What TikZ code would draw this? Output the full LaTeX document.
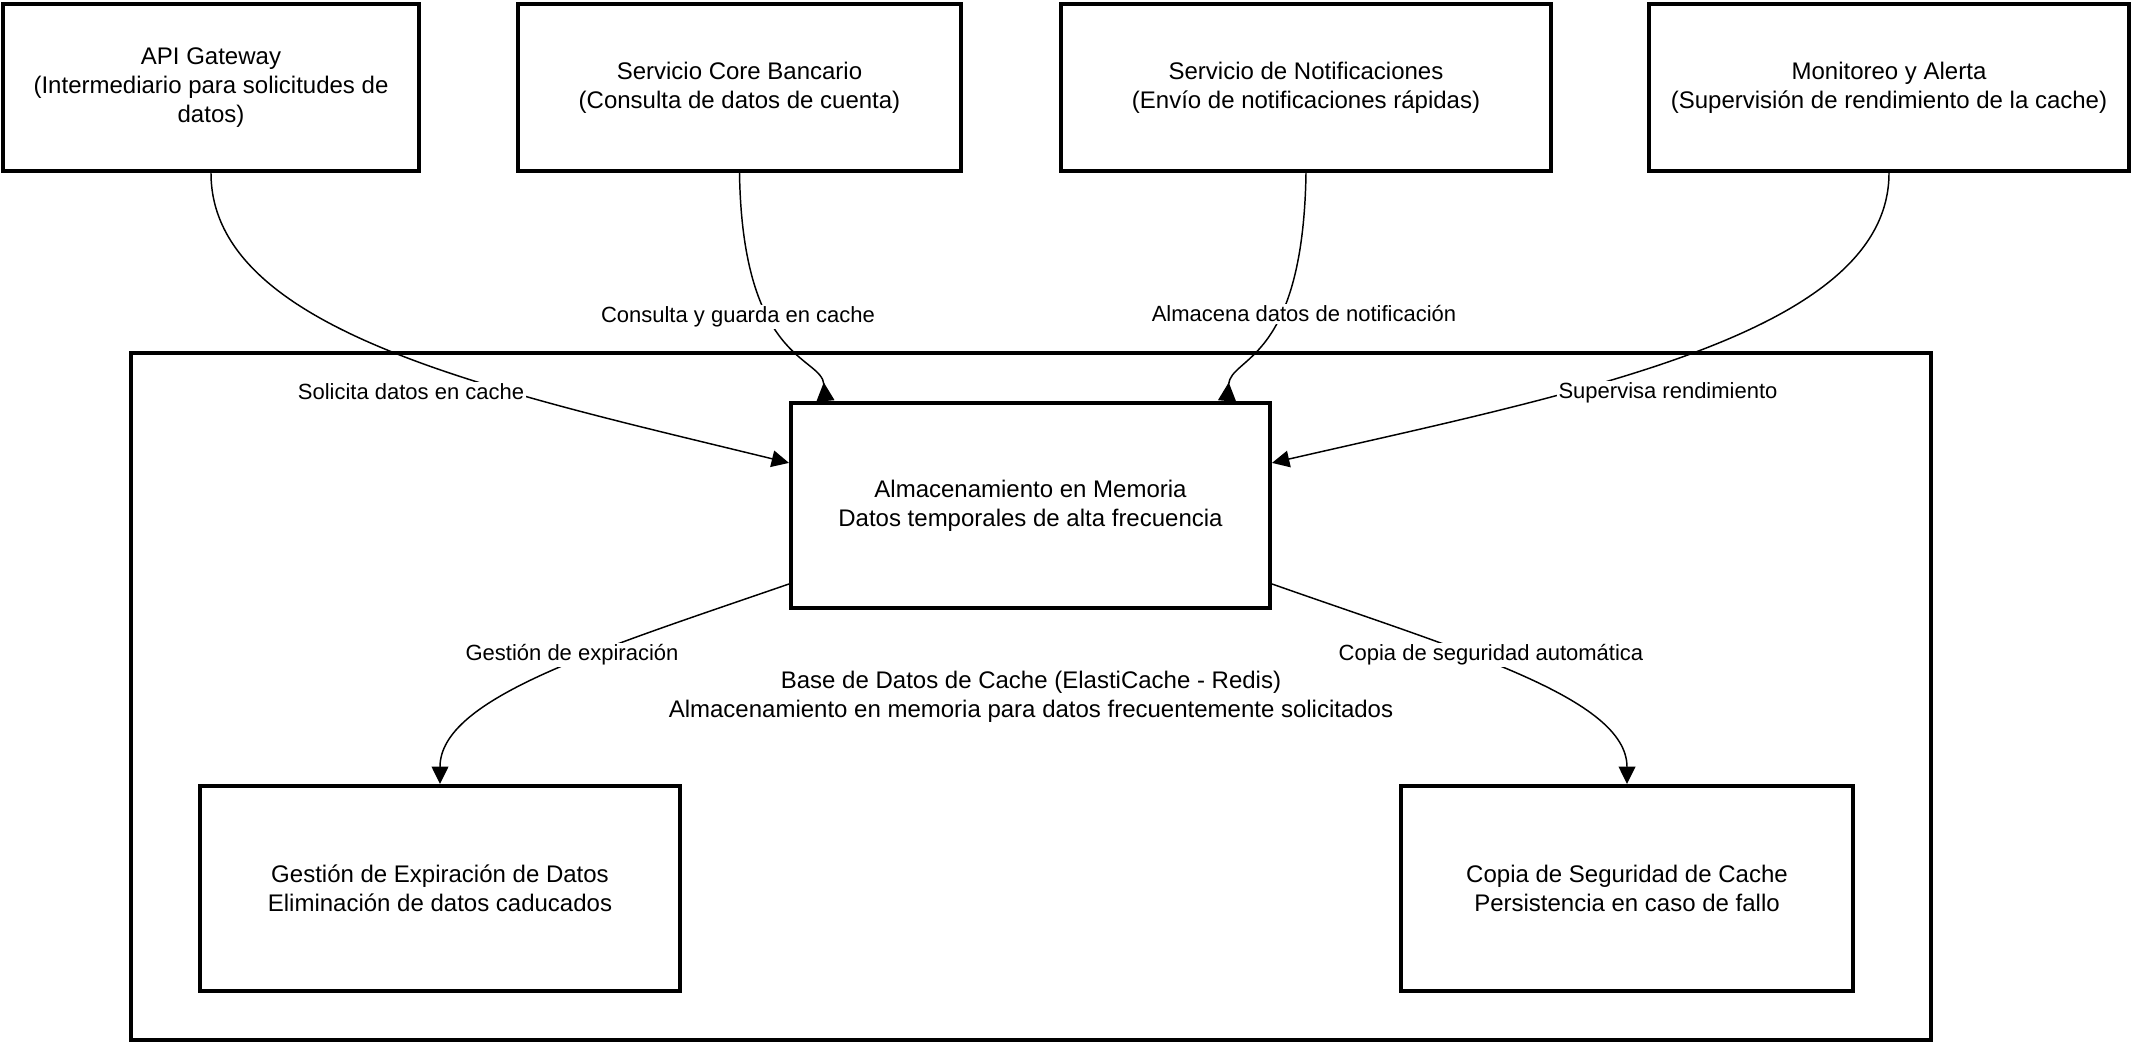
\documentclass[tikz,border=0pt]{standalone}
\usepackage{fontspec}
\setmainfont{Liberation Sans}
\usetikzlibrary{arrows.meta}

\tikzset{
box/.style={draw, line width=3pt, align=center, inner sep=0pt, font=\fontsize{18}{22}\selectfont},
lbl/.style={fill=white, inner sep=1.5pt, font=\fontsize{16.5}{19}\selectfont},
flow/.style={line width=1.1pt, -{Triangle[length=13pt,width=12.5pt]}},
backflow/.style={line width=1.1pt, -{Triangle[reversed,length=14pt,width=13.5pt]}}
}

\begin{document}
\begin{tikzpicture}[x=0.75pt,y=-0.75pt]
\useasboundingbox (0,0) rectangle (2132,1042);

% container
\node (cache) at (1031,696.5) [box, minimum width=1350pt, minimum height=515.25pt] {Base de Datos de Cache (ElastiCache - Redis)\\Almacenamiento en memoria para datos frecuentemente solicitados};

% services on top
\node (api) at (211,87.5) [box, minimum width=312pt, minimum height=125.25pt] {API Gateway\\(Intermediario para solicitudes de\\datos)};
\node (core) at (739.5,87.5) [box, minimum width=332.25pt, minimum height=125.25pt] {Servicio Core Bancario\\(Consulta de datos de cuenta)};
\node (notif) at (1306,87.5) [box, minimum width=367.5pt, minimum height=125.25pt] {Servicio de Notificaciones\\(Envío de notificaciones rápidas)};
\node (mon) at (1889,87.5) [box, minimum width=360pt, minimum height=125.25pt] {Monitoreo y Alerta\\(Supervisión de rendimiento de la cache)};

% inside the cache
\node (mem) at (1030.5,505.5) [box, minimum width=359.25pt, minimum height=153.75pt] {Almacenamiento en Memoria\\Datos temporales de alta frecuencia};
\node (exp) at (440,888.5) [box, minimum width=360pt, minimum height=153.75pt] {Gestión de Expiración de Datos\\Eliminación de datos caducados};
\node (bak) at (1627,888.5) [box, minimum width=339pt, minimum height=153.75pt] {Copia de Seguridad de Cache\\Persistencia en caso de fallo};

\draw[flow] (api.south) .. controls +(0,160) and +(-290,-71) .. (mem.170);
\draw[backflow] (core.south) .. controls +(3,190) and +(-4,-45) .. (mem.153);
\draw[backflow] (notif.south) .. controls +(-3,190) and +(4,-45) .. (mem.28);
\draw[flow] (mon.south) .. controls +(0,160) and +(310,-71) .. (mem.10);
\draw[flow] (mem.198) .. controls +(-191,66) and +(0,-86) .. (exp.north);
\draw[flow] (mem.-18) .. controls +(190,67) and +(0,-86) .. (bak.north);

\node (l0) at (411,392) [lbl] {Solicita datos en cache};
\node (l1) at (738,317) [lbl] {Consulta y guarda en cache};
\node (l2) at (1304,314) [lbl] {Almacena datos de notificación};
\node (l3) at (1668,393) [lbl] {Supervisa rendimiento};
\node (l4) at (572,655) [lbl] {Gestión de expiración};
\node (l5) at (1491,655) [lbl] {Copia de seguridad automática};
\end{tikzpicture}
\end{document}
